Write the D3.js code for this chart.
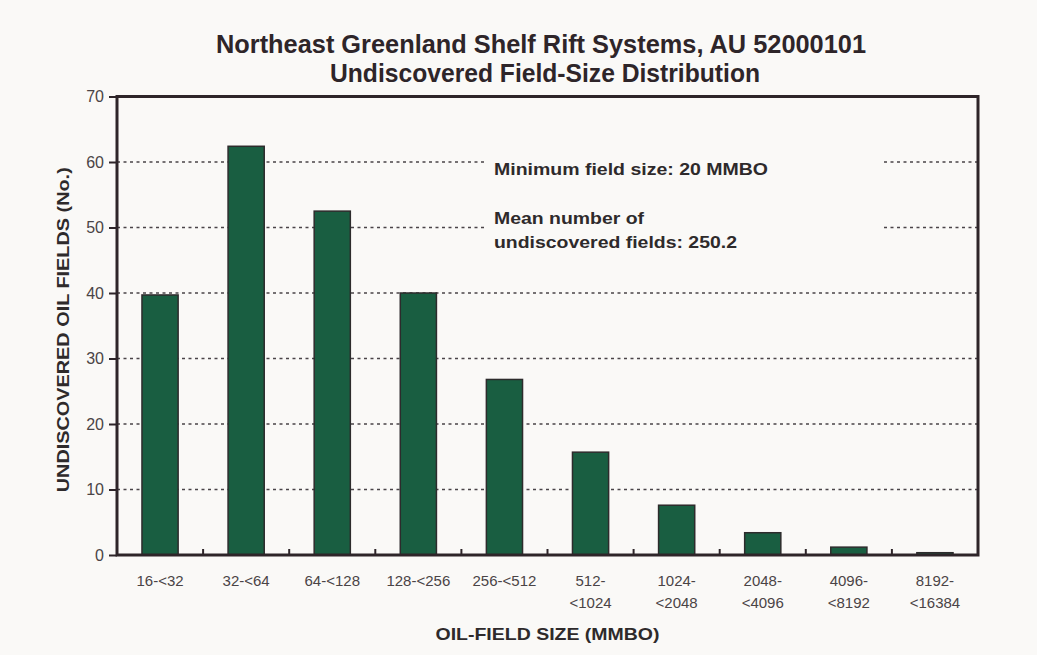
<!DOCTYPE html>
<html>
<head>
<meta charset="utf-8">
<script src="https://cdn.jsdelivr.net/npm/d3@7"></script>
<style>
  html, body { margin: 0; padding: 0; background: #faf9f7; }
  svg { display: block; }
</style>
</head>
<body>
<div id="chart"></div>
<script>
// chart data
var titleLines = ['Northeast Greenland Shelf Rift Systems, AU 52000101', 'Undiscovered Field-Size Distribution'];
var sizeClasses = [['16-<32'], ['32-<64'], ['64-<128'], ['128-<256'], ['256-<512'],
    ['512-', '<1024'], ['1024-', '<2048'], ['2048-', '<4096'], ['4096-', '<8192'], ['8192-', '<16384']];
var fieldCounts = [39.7, 62.4, 52.5, 40.0, 26.8, 15.7, 7.6, 3.4, 1.2, 0.35];
var yTicks = [0, 10, 20, 30, 40, 50, 60, 70];
var gridTicks = [10, 20, 30, 40, 50, 60];
var notes = ['Minimum field size: 20 MMBO', 'Mean number of', 'undiscovered fields: 250.2'];

var width = 1037, height = 655;
var margin = {top: 96.5, right: 59, bottom: 100, left: 117};
var plotW = width - margin.left - margin.right;
var plotH = height - margin.top - margin.bottom;

var ink = '#2e2529';
var barFill = '#195e41';
var font = '"Liberation Sans", Arial, Helvetica, sans-serif';

var svg = d3.select('#chart').append('svg')
    .attr('width', width).attr('height', height);
svg.append('rect').attr('width', width).attr('height', height).attr('fill', '#faf9f7');

// title (text squeezed to the width of the original condensed face)
svg.append('g').selectAll('text')
    .data(titleLines)
    .enter().append('text')
    .attr('x', function(d, i) { return i === 0 ? 541 : 545; })
    .attr('y', function(d, i) { return 53 + i * 29; })
    .attr('text-anchor', 'middle')
    .attr('font-family', '"Liberation Sans Narrow", ' + font)
    .attr('font-weight', 'bold')
    .attr('font-size', 26)
    .attr('fill', ink)
    .attr('textLength', function(d, i) { return i === 0 ? 650 : 430; })
    .attr('lengthAdjust', 'spacingAndGlyphs')
    .text(function(d) { return d; });

var x = d3.scaleBand()
    .domain(d3.range(sizeClasses.length))
    .range([0, plotW])
    .paddingInner(0.58)
    .paddingOuter(0.29);

var y = d3.scaleLinear().domain([0, 70]).range([plotH, 0]);

var g = svg.append('g').attr('transform', 'translate(' + margin.left + ',' + margin.top + ')');

// dotted grid
g.append('g').selectAll('line')
    .data(gridTicks)
    .enter().append('line')
    .attr('x1', 0).attr('x2', plotW)
    .attr('y1', function(d) { return y(d); })
    .attr('y2', function(d) { return y(d); })
    .attr('stroke', '#4a4448')
    .attr('stroke-width', 1.6)
    .attr('stroke-dasharray', '3,3.5');

// box behind the notes hides the grid there
g.append('rect')
    .attr('x', 485 - margin.left).attr('y', 150 - margin.top)
    .attr('width', 882 - 485).attr('height', 105)
    .attr('fill', '#faf9f7');

var noteText = g.append('text')
    .attr('font-family', font)
    .attr('font-weight', 'bold')
    .attr('font-size', 17)
    .attr('fill', '#2e2a2b');
noteText.selectAll('tspan')
    .data(notes)
    .enter().append('tspan')
    .attr('x', 494 - margin.left)
    .attr('y', function(d, i) { return [175, 224, 248][i] - margin.top; })
    .attr('textLength', function(d, i) { return [274, 150, 243][i]; })
    .attr('lengthAdjust', 'spacingAndGlyphs')
    .text(function(d) { return d; });

// bars
g.append('g').selectAll('rect')
    .data(fieldCounts)
    .enter().append('rect')
    .attr('x', function(d, i) { return x(i); })
    .attr('y', function(d) { return y(d); })
    .attr('width', x.bandwidth())
    .attr('height', function(d) { return plotH - y(d); })
    .attr('fill', barFill)
    .attr('stroke', '#2d2b2c')
    .attr('stroke-width', 1.5);

// y axis
var yAxis = g.append('g')
    .call(d3.axisLeft(y).tickValues(yTicks).tickSize(8).tickPadding(5));
yAxis.select('.domain').remove();
yAxis.selectAll('line').attr('stroke', ink).attr('stroke-width', 2);
yAxis.selectAll('text')
    .attr('font-family', font)
    .attr('font-size', 16)
    .attr('fill', '#4a4446');

// category boundary ticks on the bottom axis
var step = x.step();
g.append('g').selectAll('line')
    .data(d3.range(1, sizeClasses.length))
    .enter().append('line')
    .attr('x1', function(d) { return d * step; })
    .attr('x2', function(d) { return d * step; })
    .attr('y1', plotH).attr('y2', plotH - 6)
    .attr('stroke', ink)
    .attr('stroke-width', 2);

// frame
g.append('rect')
    .attr('x', 0).attr('y', 0)
    .attr('width', plotW).attr('height', plotH)
    .attr('fill', 'none')
    .attr('stroke', ink)
    .attr('stroke-width', 3);

// x labels
var xLab = g.append('g').selectAll('text')
    .data(sizeClasses)
    .enter().append('text')
    .attr('text-anchor', 'middle')
    .attr('font-family', font)
    .attr('font-size', 15)
    .attr('fill', '#4a4446');
xLab.selectAll('tspan')
    .data(function(d, i) { return d.map(function(s) { return {s: s, i: i}; }); })
    .enter().append('tspan')
    .attr('x', function(d) { return x(d.i) + x.bandwidth() / 2; })
    .attr('y', function(d, j) { return plotH + 31 + j * 22; })
    .text(function(d) { return d.s; });

// axis titles
svg.append('text')
    .attr('x', margin.left + plotW / 2)
    .attr('y', 640)
    .attr('text-anchor', 'middle')
    .attr('font-family', font)
    .attr('font-weight', 'bold')
    .attr('font-size', 17)
    .attr('fill', '#2e2a2b')
    .attr('textLength', 224)
    .attr('lengthAdjust', 'spacingAndGlyphs')
    .text('OIL-FIELD SIZE (MMBO)');

svg.append('text')
    .attr('transform', 'translate(69,' + (margin.top + plotH / 2 + 4) + ') rotate(-90)')
    .attr('text-anchor', 'middle')
    .attr('font-family', font)
    .attr('font-weight', 'bold')
    .attr('font-size', 17)
    .attr('fill', '#2e2a2b')
    .attr('textLength', 325)
    .attr('lengthAdjust', 'spacingAndGlyphs')
    .text('UNDISCOVERED OIL FIELDS (No.)');
</script>
</body>
</html>
